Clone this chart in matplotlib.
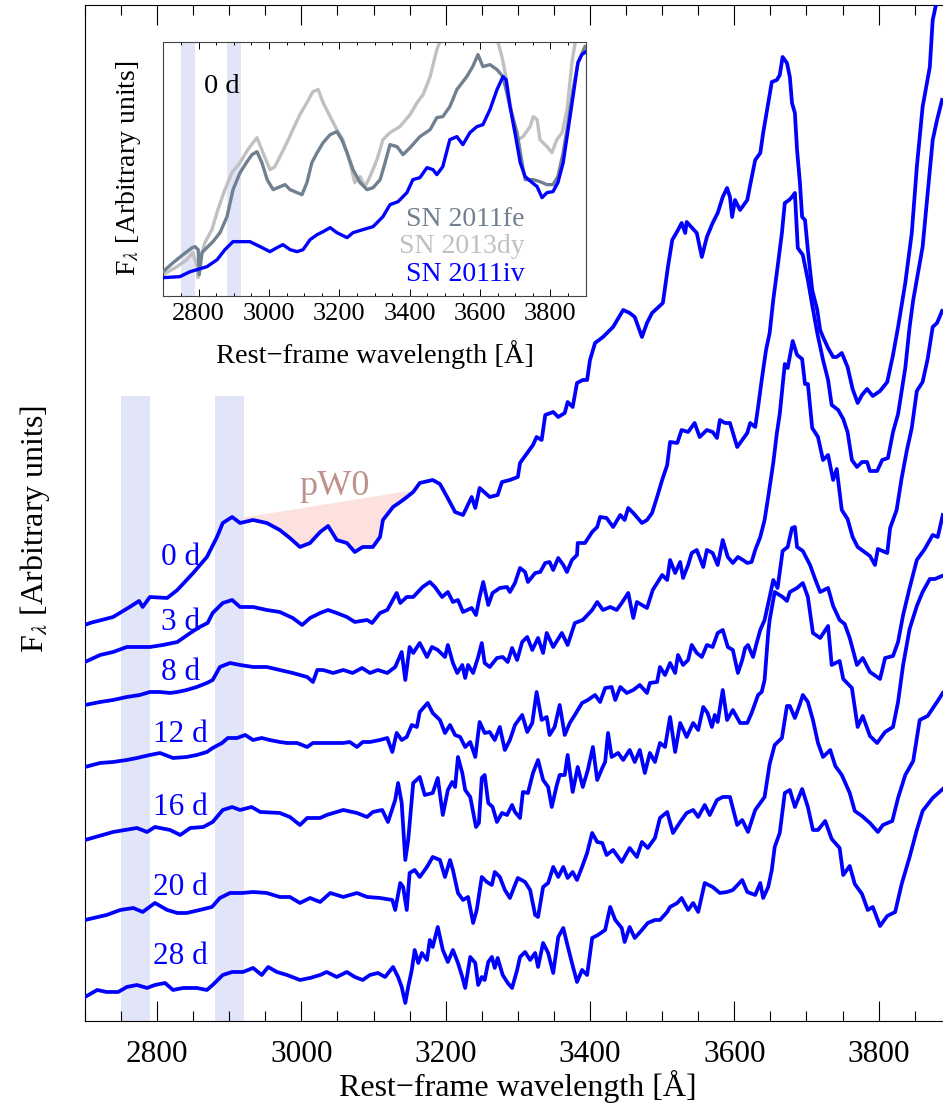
import matplotlib
matplotlib.use("Agg")
import matplotlib.pyplot as plt
import numpy as np
from matplotlib.ticker import MultipleLocator

plt.rcParams['font.family'] = ['Liberation Serif', 'DejaVu Serif']
plt.rcParams['mathtext.fontset'] = 'stix'

# SN 2011iv spectra, rest-frame wavelength [A] and offset flux [arbitrary units]
wl_0d = [2700, 2707, 2739, 2762, 2775, 2780, 2790, 2814, 2828, 2850, 2869, 2883, 2891, 2904, 2915,
         2933, 2952, 2970, 2984, 2998, 3012, 3026, 3037, 3049, 3063, 3074, 3085, 3099, 3109, 3113,
         3127, 3141, 3155, 3164, 3182, 3192, 3202, 3213, 3224, 3236, 3241, 3247, 3261, 3272, 3278,
         3289, 3300, 3303, 3314, 3321, 3326, 3333, 3338, 3349, 3356, 3365, 3369, 3376, 3382, 3390,
         3396, 3400, 3407, 3418, 3425, 3432, 3446, 3455, 3462, 3472, 3479, 3486, 3501, 3508, 3514,
         3522, 3527, 3532, 3534, 3548, 3555, 3562, 3570, 3577, 3584, 3590, 3594, 3597, 3601, 3608,
         3618, 3622, 3629, 3636, 3640, 3645, 3652, 3659, 3663, 3667, 3673, 3677, 3680, 3684, 3687,
         3691, 3694, 3698, 3702, 3708, 3715, 3719, 3723, 3730, 3737, 3742, 3749, 3757, 3764, 3771,
         3777, 3784, 3792, 3802, 3812, 3820, 3827, 3837, 3846, 3853, 3861, 3871, 3875, 3881]
fl_0d = [396, 398, 404, 414, 420, 414, 424, 423, 431, 448, 464, 484, 498, 504, 498,
         501, 498, 491, 483, 474, 478, 489, 495, 481, 478, 469, 474, 474, 484, 501,
         514, 521, 529, 538, 541, 537, 524, 509, 506, 524, 513, 533, 524, 526, 539,
         541, 544, 558, 569, 576, 584, 581, 606, 609, 604, 608, 619, 614, 638, 641,
         641, 661, 678, 684, 689, 694, 711, 708, 704, 684, 698, 708, 718, 754, 781,
         791, 798, 788, 799, 788, 764, 784, 798, 808, 824, 833, 824, 804, 821, 811,
         821, 836, 861, 868, 888, 909, 939, 941, 946, 964, 958, 944, 918, 908, 871,
         838, 804, 801, 771, 731, 711, 691, 684, 673, 664, 664, 668, 654, 632, 618,
         626, 632, 625, 630, 639, 666, 694, 738, 788, 854, 914, 954, 1001, 1021]

wl_3d = [2700, 2721, 2739, 2758, 2776, 2790, 2808, 2828, 2846, 2859, 2870, 2877, 2891, 2904, 2915,
         2933, 2952, 2970, 2988, 3001, 3012, 3026, 3037, 3049, 3063, 3074, 3091, 3098, 3109, 3119,
         3132, 3137, 3146, 3155, 3168, 3178, 3185, 3195, 3203, 3210, 3217, 3224, 3236, 3242, 3247,
         3252, 3259, 3265, 3275, 3285, 3289, 3296, 3303, 3310, 3314, 3324, 3331, 3338, 3344, 3349,
         3356, 3363, 3368, 3375, 3382, 3383, 3393, 3403, 3410, 3414, 3423, 3432, 3442, 3448, 3453,
         3460, 3472, 3479, 3486, 3493, 3500, 3507, 3511, 3521, 3527, 3536, 3545, 3552, 3562, 3570,
         3576, 3580, 3587, 3594, 3604, 3611, 3618, 3622, 3629, 3633, 3638, 3644, 3649, 3654, 3660,
         3666, 3670, 3676, 3680, 3684, 3688, 3695, 3702, 3708, 3715, 3723, 3730, 3735, 3744, 3751,
         3757, 3763, 3770, 3777, 3784, 3788, 3798, 3805, 3813, 3820, 3827, 3837, 3843, 3848, 3861,
         3868, 3875, 3881, 3888]
fl_3d = [359, 366, 369, 374, 374, 374, 376, 379, 388, 394, 398, 408, 418, 421, 414,
         414, 411, 409, 403, 396, 403, 408, 411, 408, 404, 399, 401, 398, 408, 411,
         428, 418, 424, 424, 434, 439, 434, 424, 429, 419, 421, 409, 413, 406, 424,
         439, 416, 428, 433, 434, 429, 438, 453, 449, 439, 448, 449, 458, 459, 451,
         463, 456, 449, 461, 466, 478, 478, 489, 494, 504, 503, 494, 506, 501, 513,
         508, 498, 501, 508, 524, 541, 556, 579, 578, 591, 589, 598, 584, 591, 589,
         583, 601, 598, 598, 574, 581, 588, 598, 594, 614, 641, 671, 688, 721, 754,
         788, 818, 821, 824, 828, 773, 766, 741, 716, 688, 661, 641, 616, 611, 602,
         589, 561, 554, 559, 559, 550, 550, 561, 563, 589, 607, 653, 694, 721, 774,
         828, 881, 901, 921]

wl_8d = [2700, 2721, 2739, 2758, 2776, 2790, 2804, 2818, 2828, 2841, 2855, 2869, 2877, 2887, 2901,
         2915, 2933, 2952, 2970, 2988, 3008, 3016, 3022, 3030, 3044, 3058, 3071, 3084, 3095, 3106,
         3119, 3130, 3139, 3144, 3150, 3155, 3164, 3174, 3181, 3189, 3199, 3203, 3210, 3216, 3223,
         3227, 3231, 3238, 3245, 3250, 3254, 3261, 3271, 3279, 3286, 3292, 3299, 3306, 3313, 3320,
         3328, 3335, 3340, 3349, 3361, 3369, 3379, 3390, 3403, 3410, 3418, 3428, 3437, 3444, 3453,
         3460, 3465, 3479, 3487, 3500, 3507, 3511, 3518, 3525, 3529, 3536, 3541, 3548, 3557, 3562,
         3570, 3577, 3584, 3591, 3598, 3605, 3612, 3618, 3624, 3629, 3636, 3642, 3647, 3654, 3659,
         3663, 3670, 3674, 3681, 3687, 3694, 3698, 3702, 3708, 3716, 3723, 3730, 3737, 3742, 3749,
         3757, 3764, 3771, 3788, 3795, 3799, 3812, 3816, 3825, 3832, 3839, 3846, 3853, 3861, 3868,
         3875, 3881, 3888]
fl_8d = [316, 319, 321, 324, 326, 329, 329, 328, 329, 331, 334, 338, 341, 354, 358,
         356, 354, 354, 351, 348, 344, 339, 351, 351, 348, 351, 348, 353, 348, 351,
         348, 354, 369, 341, 374, 368, 378, 364, 374, 371, 364, 376, 358, 348, 356,
         343, 356, 348, 364, 378, 358, 354, 363, 364, 359, 373, 361, 379, 384, 371,
         383, 368, 388, 374, 388, 376, 398, 401, 411, 419, 411, 414, 411, 418, 428,
         403, 419, 413, 431, 446, 441, 461, 448, 459, 443, 456, 468, 471, 454, 471,
         468, 456, 481, 464, 458, 464, 461, 458, 459, 471, 484, 501, 524, 558, 588,
         607, 657, 653, 680, 666, 662, 637, 637, 593, 584, 561, 566, 541, 552, 511,
         502, 484, 474, 465, 456, 472, 468, 493, 511, 543, 570, 593, 630, 639, 662,
         694, 698, 710]

wl_12d = [2700, 2721, 2739, 2758, 2772, 2790, 2804, 2822, 2841, 2855, 2869, 2877, 2890, 2898, 2911,
          2922, 2933, 2945, 2956, 2970, 2980, 2994, 3008, 3016, 3030, 3044, 3058, 3067, 3077, 3085,
          3095, 3109, 3119, 3126, 3132, 3139, 3146, 3153, 3160, 3164, 3175, 3182, 3192, 3199, 3206,
          3213, 3220, 3227, 3234, 3241, 3247, 3254, 3261, 3268, 3275, 3282, 3289, 3296, 3306, 3313,
          3320, 3326, 3333, 3340, 3344, 3351, 3358, 3365, 3372, 3379, 3389, 3397, 3407, 3414, 3421,
          3430, 3435, 3442, 3451, 3460, 3469, 3479, 3483, 3493, 3497, 3504, 3511, 3518, 3522, 3529,
          3536, 3541, 3548, 3555, 3562, 3570, 3577, 3584, 3591, 3598, 3605, 3611, 3615, 3619, 3626,
          3631, 3636, 3642, 3649, 3654, 3660, 3667, 3674, 3680, 3684, 3687, 3695, 3705, 3712, 3719,
          3730, 3737, 3746, 3753, 3760, 3770, 3778, 3788, 3798, 3802, 3809, 3820, 3827, 3834, 3843,
          3853, 3864, 3875, 3882, 3889]
fl_12d = [254, 258, 259, 261, 263, 266, 268, 263, 264, 266, 269, 273, 278, 283, 283,
          286, 281, 283, 281, 279, 278, 278, 274, 278, 278, 278, 278, 279, 274, 279,
          279, 281, 283, 269, 288, 281, 284, 296, 294, 309, 318, 308, 301, 288, 296,
          286, 284, 274, 279, 264, 299, 288, 289, 281, 294, 271, 281, 296, 306, 289,
          298, 329, 301, 304, 286, 294, 316, 286, 298, 306, 318, 321, 326, 319, 333,
          334, 321, 334, 328, 331, 336, 328, 338, 339, 354, 346, 358, 348, 366, 356,
          361, 376, 368, 364, 376, 374, 388, 391, 374, 371, 348, 361, 373, 376, 364,
          378, 391, 401, 424, 441, 433, 470, 474, 493, 494, 474, 470, 456, 442, 429,
          433, 415, 401, 397, 383, 356, 363, 349, 344, 342, 363, 365, 379, 406, 433,
          461, 472, 486, 484, 506]

wl_16d = [2700, 2739, 2772, 2786, 2797, 2818, 2832, 2846, 2864, 2877, 2891, 2904, 2915, 2931, 2943,
          2970, 2984, 2998, 3008, 3026, 3035, 3058, 3077, 3091, 3099, 3112, 3120, 3130, 3134, 3139,
          3144, 3148, 3155, 3164, 3171, 3182, 3189, 3196, 3203, 3209, 3213, 3217, 3223, 3227, 3234,
          3242, 3246, 3250, 3254, 3259, 3265, 3271, 3278, 3285, 3292, 3296, 3303, 3307, 3314, 3321,
          3328, 3335, 3342, 3347, 3354, 3358, 3365, 3369, 3376, 3383, 3390, 3397, 3404, 3410, 3417,
          3421, 3425, 3430, 3439, 3446, 3455, 3462, 3469, 3476, 3483, 3490, 3497, 3504, 3511, 3518,
          3525, 3534, 3543, 3550, 3557, 3563, 3569, 3573, 3577, 3584, 3590, 3598, 3608, 3618, 3624,
          3633, 3638, 3642, 3647, 3649, 3656, 3667, 3673, 3677, 3687, 3695, 3702, 3709, 3719, 3730,
          3735, 3746, 3751, 3763, 3771, 3778, 3788, 3798, 3809, 3820, 3827, 3834, 3843, 3853, 3861,
          3871, 3878, 3888]
fl_16d = [181, 189, 193, 189, 194, 191, 186, 193, 194, 199, 211, 214, 211, 214, 209,
          208, 204, 196, 203, 203, 206, 211, 208, 204, 209, 211, 199, 221, 238, 218,
          161, 181, 238, 244, 226, 228, 243, 206, 231, 239, 234, 264, 248, 231, 224,
          194, 198, 243, 246, 218, 214, 199, 208, 206, 216, 209, 203, 229, 228, 248,
          261, 241, 234, 214, 236, 246, 246, 266, 229, 254, 234, 251, 274, 241, 253,
          259, 288, 264, 268, 261, 271, 259, 271, 248, 268, 259, 278, 274, 304, 269,
          298, 284, 298, 291, 314, 308, 294, 306, 299, 331, 301, 311, 298, 298, 308,
          326, 329, 341, 388, 401, 429, 424, 420, 429, 433, 438, 424, 388, 383, 395,
          356, 360, 342, 333, 294, 305, 285, 278, 289, 294, 319, 356, 392, 415, 429,
          442, 442, 445]

wl_20d = [2700, 2730, 2749, 2767, 2780, 2797, 2814, 2828, 2841, 2859, 2876, 2887, 2901, 2918, 2933,
          2952, 2970, 2984, 2998, 3012, 3026, 3040, 3058, 3077, 3091, 3109, 3126, 3130, 3137, 3141,
          3146, 3150, 3157, 3164, 3174, 3182, 3192, 3199, 3206, 3210, 3217, 3224, 3231, 3238, 3243,
          3250, 3257, 3264, 3268, 3275, 3282, 3289, 3296, 3300, 3310, 3317, 3324, 3328, 3335, 3342,
          3349, 3356, 3363, 3369, 3376, 3382, 3389, 3396, 3403, 3410, 3417, 3423, 3432, 3444, 3455,
          3465, 3472, 3480, 3490, 3497, 3507, 3515, 3525, 3534, 3543, 3550, 3559, 3566, 3576, 3584,
          3594, 3604, 3611, 3619, 3629, 3636, 3642, 3649, 3656, 3666, 3673, 3677, 3684, 3691, 3695,
          3702, 3709, 3716, 3723, 3733, 3740, 3749, 3760, 3767, 3777, 3788, 3799, 3806, 3819, 3827,
          3837, 3848, 3857, 3868, 3881, 3889]
fl_20d = [101, 106, 111, 113, 109, 118, 111, 108, 108, 111, 114, 123, 128, 128, 129,
          128, 124, 124, 118, 123, 119, 128, 124, 128, 124, 123, 121, 111, 138, 134,
          111, 148, 151, 144, 154, 164, 161, 144, 161, 151, 128, 121, 124, 98, 111,
          144, 139, 136, 149, 144, 131, 123, 136, 143, 139, 131, 106, 104, 134, 138,
          154, 144, 154, 143, 149, 141, 154, 168, 188, 179, 178, 166, 171, 159, 173,
          164, 179, 173, 183, 203, 209, 188, 199, 208, 211, 204, 216, 206, 221, 224,
          224, 196, 201, 189, 211, 218, 224, 257, 276, 283, 315, 315, 303, 317, 326,
          319, 301, 278, 264, 271, 255, 246, 228, 210, 205, 198, 189, 196, 200, 223,
          246, 260, 301, 305, 319, 328]

wl_28d = [2700, 2717, 2730, 2746, 2758, 2772, 2786, 2797, 2811, 2822, 2836, 2855, 2869, 2877, 2891,
          2904, 2919, 2933, 2945, 2954, 2966, 2980, 2998, 3012, 3026, 3035, 3049, 3063, 3074, 3085,
          3095, 3106, 3116, 3127, 3134, 3139, 3144, 3148, 3153, 3157, 3162, 3167, 3174, 3178, 3182,
          3189, 3196, 3203, 3210, 3217, 3223, 3227, 3234, 3241, 3245, 3250, 3254, 3259, 3264, 3268,
          3272, 3279, 3286, 3292, 3299, 3303, 3310, 3317, 3324, 3328, 3335, 3342, 3349, 3356, 3363,
          3368, 3375, 3382, 3389, 3396, 3403, 3411, 3421, 3428, 3435, 3444, 3448, 3455, 3462, 3472,
          3480, 3490, 3497, 3507, 3511, 3521, 3527, 3536, 3543, 3550, 3559, 3570, 3580, 3590, 3598,
          3611, 3618, 3629, 3636, 3640, 3647, 3652, 3656, 3663, 3670, 3677, 3684, 3694, 3702, 3709,
          3716, 3726, 3735, 3746, 3751, 3760, 3767, 3777, 3785, 3792, 3802, 3812, 3823, 3832, 3843,
          3853, 3861, 3875, 3889]
fl_28d = [24, 31, 29, 29, 34, 36, 33, 36, 38, 31, 33, 33, 31, 36, 46,
          49, 49, 53, 46, 54, 49, 46, 41, 43, 46, 49, 44, 49, 44, 41,
          46, 48, 44, 54, 44, 34, 18, 34, 51, 71, 58, 68, 61, 81, 74,
          94, 71, 59, 71, 58, 44, 33, 64, 58, 36, 44, 41, 59, 64, 53,
          63, 46, 38, 33, 51, 64, 69, 61, 68, 54, 78, 68, 48, 84, 93,
          78, 58, 39, 51, 46, 83, 86, 91, 114, 101, 93, 79, 94, 83, 91,
          98, 101, 101, 109, 114, 118, 123, 111, 118, 109, 138, 134, 128, 129, 131,
          141, 129, 126, 138, 123, 134, 151, 174, 188, 228, 231, 214, 232, 214, 191,
          191, 200, 182, 173, 146, 155, 137, 127, 111, 114, 95, 105, 109, 137, 164,
          191, 210, 223, 232]

spectra = [(wl_0d, fl_0d), (wl_3d, fl_3d), (wl_8d, fl_8d), (wl_12d, fl_12d),
           (wl_16d, fl_16d), (wl_20d, fl_20d), (wl_28d, fl_28d)]
epochs = ['0 d', '3 d', '8 d', '12 d', '16 d', '20 d', '28 d']
label_y = [463, 398, 348, 286, 213, 133, 64]

bands = [(2750, 2790), (2880, 2920)]
band_top = 625

# pW0 pseudo-continuum end points on the 0 d spectrum
pw0_wl = [2919, 3153]
pw0_cont = [504, 531]

# inset: 0 d comparison
in_wl_11iv = [2699, 2747, 2776, 2796, 2824, 2853, 2875, 2898, 2918, 2946, 2975, 3003, 3023, 3040, 3060,
              3080, 3097, 3117, 3137, 3154, 3174, 3193, 3222, 3239, 3267, 3296, 3324, 3344, 3367, 3392,
              3409, 3429, 3449, 3466, 3477, 3494, 3514, 3534, 3551, 3571, 3591, 3608, 3628, 3648, 3665,
              3674, 3685, 3699, 3714, 3728, 3748, 3762, 3776, 3790, 3807, 3821, 3836, 3850, 3864, 3878,
              3889, 3901]
in_fl_11iv = [18, 19, 24, 26, 29, 36, 46, 54, 54, 54, 49, 44, 48, 51, 46,
              44, 46, 56, 61, 64, 68, 63, 58, 63, 66, 69, 79, 91, 94, 103,
              116, 118, 128, 126, 121, 129, 156, 159, 151, 163, 169, 171, 186, 206, 219,
              216, 189, 163, 133, 119, 113, 109, 98, 103, 104, 113, 133, 166, 199, 233,
              241, 244]

in_wl_11fe = [2699, 2728, 2756, 2782, 2790, 2799, 2802, 2810, 2818, 2841, 2861, 2881, 2898, 2918, 2938,
              2952, 2966, 2980, 2995, 3012, 3032, 3046, 3060, 3080, 3094, 3108, 3122, 3137, 3154, 3174,
              3193, 3207, 3222, 3239, 3259, 3279, 3296, 3316, 3330, 3344, 3364, 3381, 3401, 3429, 3458,
              3477, 3494, 3514, 3534, 3562, 3579, 3594, 3608, 3628, 3648, 3665, 3685, 3705, 3719, 3728,
              3751, 3770, 3790, 3807, 3821, 3836, 3850, 3864, 3878, 3898]
in_fl_11fe = [24, 33, 41, 48, 49, 46, 21, 43, 46, 54, 63, 79, 106, 123, 134,
              141, 144, 133, 116, 106, 109, 111, 106, 103, 101, 113, 133, 143, 153, 161,
              164, 156, 143, 126, 113, 106, 108, 116, 133, 151, 149, 141, 148, 159, 166,
              178, 179, 189, 206, 219, 229, 241, 229, 231, 226, 219, 189, 163, 133, 116,
              116, 114, 111, 111, 119, 143, 173, 206, 233, 249]

in_wl_13dy = [2699, 2739, 2767, 2784, 2796, 2799, 2804, 2818, 2838, 2855, 2875, 2895, 2918, 2940, 2955,
              2966, 2983, 3003, 3017, 3037, 3051, 3068, 3088, 3108, 3125, 3140, 3154, 3174, 3193, 3210,
              3230, 3244, 3259, 3273, 3287, 3307, 3324, 3344, 3372, 3401, 3421, 3438, 3458, 3477, 3486,
              3506, 3529, 3543, 3600, 3642, 3651, 3662, 3671, 3685, 3699, 3708, 3722, 3742, 3751, 3762,
              3770, 3790, 3804, 3818, 3833, 3847, 3861, 3870, 3884]
in_fl_13dy = [21, 29, 36, 43, 29, 18, 36, 53, 66, 86, 106, 123, 133, 146, 153,
              158, 143, 126, 129, 143, 153, 166, 181, 193, 204, 206, 193, 179, 166, 156,
              133, 113, 119, 109, 119, 136, 156, 163, 169, 181, 193, 201, 219, 246, 254,
              261, 258, 276, 281, 266, 253, 239, 223, 193, 163, 156, 159, 169, 179, 176,
              156, 149, 143, 156, 163, 186, 233, 253, 276]

inset_names = ['SN 2011fe', 'SN 2013dy', 'SN 2011iv']
inset_colors = ['#708090', '#c0c0c0', '#0000ff']

fig = plt.figure(figsize=(9.43, 11.04), dpi=100)
ax = fig.add_axes([0.0901, 0.0752, 0.9181, 0.9200])

for lo, hi in bands:
    ax.fill_between([lo, hi], 0, band_top, color='#e2e4f8', lw=0, zorder=0)

seg_wl = [pw0_wl[0]] + [w for w in wl_0d if pw0_wl[0] < w < pw0_wl[1]] + [pw0_wl[1]]
seg_fl = np.interp(seg_wl, wl_0d, fl_0d)
seg_cont = np.interp(seg_wl, pw0_wl, pw0_cont)
ax.fill_between(seg_wl, seg_fl, seg_cont, color='#fde1de', lw=0, zorder=1)
ax.text(3046, 534, 'pW0', color='#bf918c', fontsize=26, ha='center', va='center')

for (wl, fl), ep, ly in zip(spectra, epochs, label_y):
    ax.plot(wl, fl, color='#0000ff', lw=2.7, zorder=3)
    ax.text(2832, ly, ep, color='#0000ff', fontsize=22.5, ha='center', va='center')

ax.set_xlim(2700, 3900)
ax.set_ylim(0, 1015.7)
ax.set_yticks([])
ax.xaxis.set_major_locator(MultipleLocator(200))
ax.xaxis.set_minor_locator(MultipleLocator(50))
ax.tick_params(axis='x', which='major', direction='in', top=True, length=14.4, width=0.8,
               labelsize=22.5, pad=14)
ax.tick_params(axis='x', which='minor', direction='in', top=True, length=7.2, width=0.8)
ax.set_xlabel('Rest\u2212frame wavelength [\u00c5]', fontsize=23)
ax.xaxis.set_label_coords(0.5, -0.048)
ax.text(-0.0578, 0.4844, 'F$_\\lambda$ [Arbitrary units]', transform=ax.transAxes,
        rotation=90, fontsize=23, ha='center', va='center')

# inset
axi = fig.add_axes([0.1732, 0.7322, 0.4479, 0.2301])
for lo, hi in bands:
    axi.axvspan(lo, hi, color='#e2e4f8', lw=0, zorder=0)
axi.plot(in_wl_13dy, in_fl_13dy, color=inset_colors[1], lw=2.4, zorder=2)
axi.plot(in_wl_11fe, in_fl_11fe, color=inset_colors[0], lw=2.4, zorder=3)
axi.plot(in_wl_11iv, in_fl_11iv, color=inset_colors[2], lw=2.4, zorder=4)
axi.set_xlim(2700, 3900)
axi.set_ylim(0, 254)
axi.set_yticks([])
axi.xaxis.set_major_locator(MultipleLocator(200))
axi.xaxis.set_minor_locator(MultipleLocator(50))
axi.tick_params(axis='x', which='major', direction='in', top=True, length=5, width=0.7,
                labelsize=19, pad=5)
axi.tick_params(axis='x', which='minor', direction='in', top=True, length=2.5, width=0.7)
for s in axi.spines.values():
    s.set_color('#444444')
axi.set_xlabel('Rest\u2212frame wavelength [\u00c5]', fontsize=20.5)
axi.xaxis.set_label_coords(0.5, -0.174)
axi.text(-0.0836, 0.5, 'F$_\\lambda$ [Arbitrary units]', transform=axi.transAxes,
         rotation=90, fontsize=20, ha='center', va='center')
axi.text(2867, 209, '0 d', fontsize=20.5, ha='center', va='center')
for name, col, yy in zip(inset_names, inset_colors, [0.298, 0.192, 0.083]):
    axi.text(0.856, yy, name, color=col, fontsize=20, ha='right', va='center',
             transform=axi.transAxes)

fig.savefig('out.png', dpi=100)
